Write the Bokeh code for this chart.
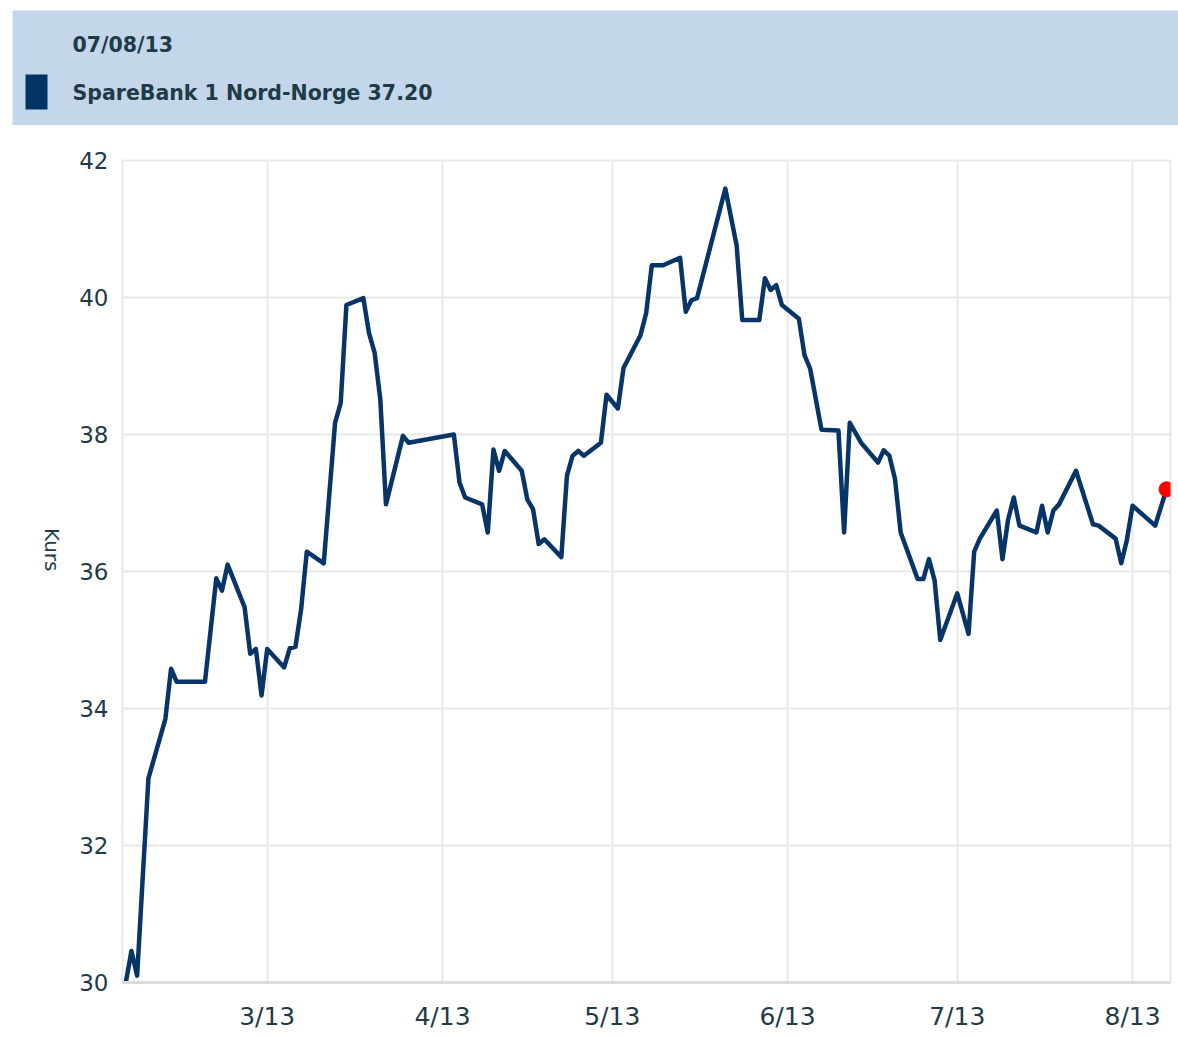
import math
import pandas as pd
from bokeh.plotting import figure
from bokeh.layouts import column
from bokeh.models import Range1d, FixedTicker
from bokeh.embed import file_html
from bokeh.resources import INLINE
from bokeh.core.properties import value

# ---------------- data ----------------
header_date = "07/08/13"
series_name = "SpareBank 1 Nord-Norge"
last_value_label = "37.20"
y_axis_title = "Kurs"

dates = [
    "2013-02-04", "2013-02-05", "2013-02-06", "2013-02-08", "2013-02-11", "2013-02-12",
    "2013-02-13", "2013-02-18", "2013-02-20", "2013-02-21", "2013-02-22", "2013-02-25",
    "2013-02-26", "2013-02-27", "2013-02-28", "2013-03-01", "2013-03-04", "2013-03-05",
    "2013-03-06", "2013-03-07", "2013-03-08", "2013-03-11", "2013-03-13", "2013-03-14",
    "2013-03-15", "2013-03-18", "2013-03-19", "2013-03-20", "2013-03-21", "2013-03-22",
    "2013-03-25", "2013-03-26", "2013-04-03", "2013-04-04", "2013-04-05", "2013-04-08",
    "2013-04-09", "2013-04-10", "2013-04-11", "2013-04-12", "2013-04-15", "2013-04-16",
    "2013-04-17", "2013-04-18", "2013-04-19", "2013-04-22", "2013-04-23", "2013-04-24",
    "2013-04-25", "2013-04-26", "2013-04-29", "2013-04-30", "2013-05-02", "2013-05-03",
    "2013-05-06", "2013-05-07", "2013-05-08", "2013-05-10", "2013-05-13", "2013-05-14",
    "2013-05-15", "2013-05-16", "2013-05-21", "2013-05-23", "2013-05-24", "2013-05-27",
    "2013-05-28", "2013-05-29", "2013-05-30", "2013-05-31", "2013-06-03", "2013-06-04",
    "2013-06-05", "2013-06-07", "2013-06-10", "2013-06-11", "2013-06-12", "2013-06-14",
    "2013-06-17", "2013-06-18", "2013-06-19", "2013-06-20", "2013-06-21", "2013-06-24",
    "2013-06-25", "2013-06-26", "2013-06-27", "2013-06-28", "2013-07-01", "2013-07-03",
    "2013-07-04", "2013-07-05", "2013-07-08", "2013-07-09", "2013-07-10", "2013-07-11",
    "2013-07-12", "2013-07-15", "2013-07-16", "2013-07-17", "2013-07-18", "2013-07-19",
    "2013-07-22", "2013-07-25", "2013-07-26", "2013-07-29", "2013-07-30", "2013-07-31",
    "2013-08-01", "2013-08-05", "2013-08-07",
]
prices = [
    30.00, 30.46, 30.10, 32.98, 33.85, 34.58,
    34.39, 34.39, 35.90, 35.72, 36.10, 35.48,
    34.80, 34.87, 34.19, 34.87, 34.60, 34.88,
    34.90, 35.45, 36.29, 36.12, 38.17, 38.46,
    39.89, 39.99, 39.48, 39.19, 38.51, 36.98,
    37.98, 37.88, 38.00, 37.30, 37.08, 36.98,
    36.57, 37.78, 37.47, 37.76, 37.47, 37.05,
    36.91, 36.40, 36.47, 36.21, 37.40, 37.69,
    37.76, 37.69, 37.88, 38.58, 38.38, 38.97,
    39.45, 39.77, 40.47, 40.47, 40.58, 39.79,
    39.96, 39.99, 41.59, 40.76, 39.67, 39.67,
    40.28, 40.11, 40.18, 39.89, 39.69, 39.16,
    38.96, 38.07, 38.06, 36.57, 38.17, 37.88,
    37.59, 37.77, 37.69, 37.35, 36.57, 35.89,
    35.89, 36.18, 35.87, 35.00, 35.68, 35.09,
    36.29, 36.48, 36.89, 36.18, 36.76, 37.08,
    36.67, 36.57, 36.96, 36.57, 36.89, 36.98,
    37.47, 36.69, 36.67, 36.48, 36.12, 36.46,
    36.96, 36.67, 37.20,
]
month_ticks = ["2013-03-01", "2013-04-01", "2013-05-01", "2013-06-01", "2013-07-01", "2013-08-01"]
month_labels = ["3/13", "4/13", "5/13", "6/13", "7/13", "8/13"]
y_ticks = [30, 32, 34, 36, 38, 40, 42]

# ---------------- style ----------------
W = 1178
HDR_H = 125
MAIN_H = 908
TEXT = "#1f3b47"
LINE = "#083567"
GRID = "#e8e8e8"
BAND = "#c3d6ea"
FONT = "DejaVu Sans"

# ---------------- header (legend band) ----------------
hdr = figure(width=W, height=HDR_H, x_range=Range1d(0, W), y_range=Range1d(0, HDR_H),
             output_backend="svg", toolbar_location=None, min_border=0,
             x_axis_location=None, y_axis_location=None, outline_line_color=None)
try:
    hdr.frame_align = False
except Exception:
    pass
hdr.grid.visible = False
hdr.quad(left=[12], right=[W], top=[HDR_H - 10], bottom=[0], fill_color=BAND, line_color=None)
hdr.quad(left=[25], right=[47], top=[HDR_H - 74], bottom=[HDR_H - 109],
         fill_color="#003366", line_color=None)
hdr.text(x=[72], y=[HDR_H - 44], text=[header_date], text_font=value(FONT),
         text_font_style="bold", text_font_size="20.5px", text_baseline="middle", text_color=TEXT)
hdr.text(x=[72], y=[HDR_H - 92], text=[f"{series_name} {last_value_label}"],
         text_font=value(FONT), text_font_style="bold", text_font_size="20.5px",
         text_baseline="middle", text_color=TEXT)

# ---------------- main plot ----------------
x = pd.to_datetime(dates)
x_start = x[0] - pd.Timedelta(hours=14)
x_end = x[-1] + pd.Timedelta(hours=17)

p = figure(width=W, height=MAIN_H, x_axis_type="datetime",
           x_range=Range1d(x_start, x_end), y_range=Range1d(30, 42),
           output_backend="svg", toolbar_location=None,
           min_border_left=122, min_border_right=8, min_border_top=35, min_border_bottom=48,
           outline_line_color=GRID, outline_line_width=2)
try:
    p.frame_align = False
except Exception:
    pass

p.line(x, prices, line_color=LINE, line_width=4.5, line_join="round")
p.scatter([x[-1]], [prices[-1]], size=15, fill_color="#ff0000", line_color="#ff0000")

tick_ms = [int(t) for t in (pd.to_datetime(month_ticks).astype("int64") // 10**6)]
p.xaxis.ticker = FixedTicker(ticks=tick_ms)
p.xaxis.major_label_overrides = {t: lab for t, lab in zip(tick_ms, month_labels)}
p.xaxis.major_tick_line_color = None
p.xaxis.minor_tick_line_color = None
p.xaxis.major_tick_out = 0
p.xaxis.major_label_standoff = 19
p.xaxis.axis_line_color = "#dcdcdc"
p.xaxis.axis_line_width = 3
p.xaxis.major_label_text_font = FONT
p.xaxis.major_label_text_font_size = "25px"
p.xaxis.major_label_text_color = TEXT

p.yaxis.ticker = FixedTicker(ticks=y_ticks)
p.yaxis.major_tick_line_color = None
p.yaxis.minor_tick_line_color = None
p.yaxis.major_tick_out = 0
p.yaxis.axis_line_color = None
p.yaxis.major_label_standoff = 14
p.yaxis.major_label_text_font = FONT
p.yaxis.major_label_text_font_size = "23px"
p.yaxis.major_label_text_color = TEXT
p.yaxis.axis_label = y_axis_title
p.yaxis.axis_label_text_font = FONT
p.yaxis.axis_label_text_font_size = "20px"
p.yaxis.axis_label_text_font_style = "normal"
p.yaxis.axis_label_text_color = TEXT
p.yaxis.axis_label_text_align = "center"
p.yaxis.axis_label_standoff = 24
p.yaxis.axis_label_orientation = -math.pi / 2

p.grid.grid_line_color = GRID
p.grid.grid_line_width = 2

layout = column(hdr, p, spacing=0)
open("out.html", "w").write(file_html(layout, INLINE))
